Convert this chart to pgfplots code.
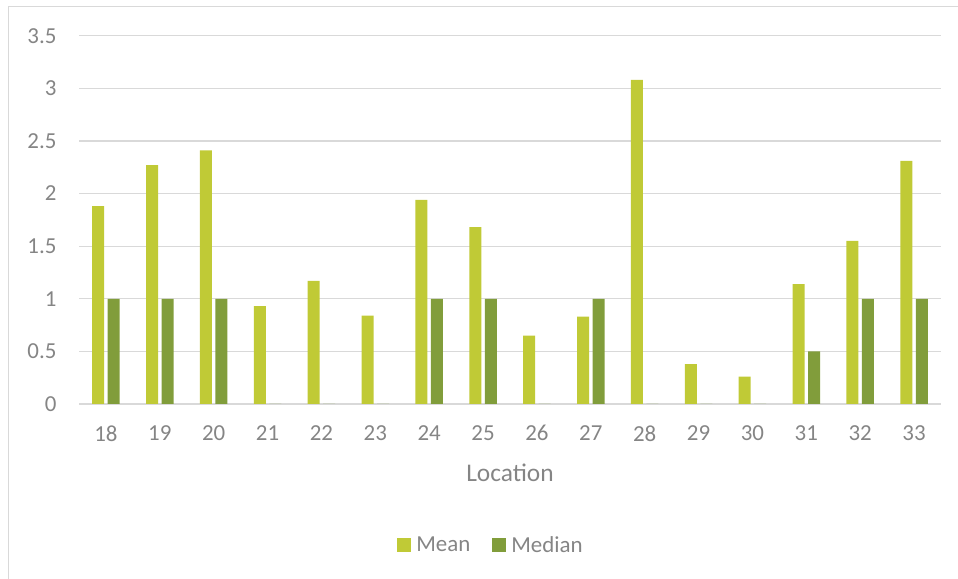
\documentclass[border=0pt]{standalone}
\usepackage{pgfplots}
\pgfplotsset{compat=1.18}
\usepackage{fontspec}
\setmainfont{Carlito}

\definecolor{meancol}{RGB}{192,202,54}
\definecolor{mediancol}{RGB}{129,157,59}
\definecolor{gridgray}{RGB}{217,217,217}
\definecolor{labelgray}{RGB}{133,133,133}

\begin{document}
\begin{tikzpicture}[x=1bp,y=1bp]
\useasboundingbox (0,0) rectangle (958,579);
% chart frame
\draw[gridgray, line width=1bp] (8.5,-20) -- (8.5,572.5) -- (980,572.5);
\begin{axis}[
  at={(79bp,175bp)}, anchor=south west,
  scale only axis, width=862bp, height=368.3bp,
  ymin=0, ymax=3.5, xmin=-0.5, xmax=15.5,
  ytick={0,0.5,...,3.5},
  xtick={0,...,15},
  xticklabels={18,19,20,21,22,23,24,25,26,27,28,29,30,31,32,33},
  ymajorgrids, grid style={draw=gridgray, line width=1.2bp},
  axis line style={draw=none},
  major tick length=0pt,
  /pgf/number format/assume math mode=true,
  tick label style={font=\fontsize{23}{23}\selectfont, text=labelgray},
  yticklabel style={xshift=-19bp},
  xticklabel style={yshift=-18bp},
  xlabel={Location},
  xlabel style={at={(axis description cs:0.5,0)}, anchor=center, yshift=-69bp,
    font=\fontsize{25.5}{25.5}\selectfont, text=labelgray},
  ybar=3.5bp, bar width=12bp,
  legend style={at={(axis description cs:0.5,0)}, anchor=center,
    xshift=-19bp, yshift=-141bp,
    draw=none, fill=none, legend columns=2,
    font=\fontsize{23}{23}\selectfont, text=labelgray,
    /tikz/every odd column/.append style={column sep=3bp},
    /tikz/every even column/.append style={column sep=20bp}},
  legend image code/.code={\fill[#1] (0bp,-7bp) rectangle (14bp,7bp);},
]
\addplot[fill=meancol, draw=none] coordinates {
  (0,1.88) (1,2.27) (2,2.41) (3,0.93) (4,1.17) (5,0.84) (6,1.94) (7,1.68)
  (8,0.65) (9,0.83) (10,3.08) (11,0.38) (12,0.26) (13,1.14) (14,1.55) (15,2.31)};
\addplot[fill=mediancol, draw=none] coordinates {
  (0,1) (1,1) (2,1) (3,0) (4,0) (5,0) (6,1) (7,1)
  (8,0) (9,1) (10,0) (11,0) (12,0) (13,0.5) (14,1) (15,1)};
\legend{Mean, Median}
\end{axis}
\end{tikzpicture}
\end{document}
